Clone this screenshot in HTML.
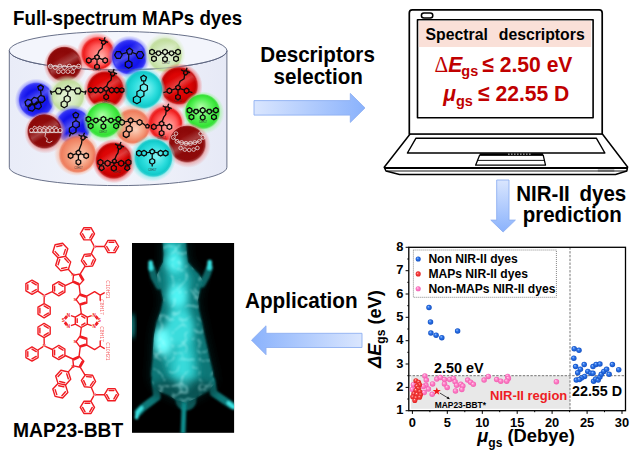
<!DOCTYPE html><html><head><meta charset="utf-8"><style>html,body{margin:0;padding:0;background:#fff}svg{display:block}</style></head><body><svg width="631" height="455" viewBox="0 0 631 455" font-family="Liberation Sans, sans-serif">
<defs><radialGradient id="g_red" cx="0.5" cy="0.5" r="0.5" fx="0.45" fy="0.45">
<stop offset="0" stop-color="#e01010"/><stop offset="0.5" stop-color="#dc0404"/><stop offset="0.72" stop-color="#c40000"/><stop offset="0.78" stop-color="#c40000" stop-opacity="0.85"/><stop offset="0.84" stop-color="#f06060" stop-opacity="0.62"/><stop offset="0.92" stop-color="#f06060" stop-opacity="0.3"/><stop offset="1" stop-color="#f06060" stop-opacity="0"/></radialGradient>
<radialGradient id="g_redpink" cx="0.5" cy="0.5" r="0.5" fx="0.62" fy="0.62">
<stop offset="0" stop-color="#ffb8b0"/><stop offset="0.5" stop-color="#ff5a5a"/><stop offset="0.72" stop-color="#ee1c1c"/><stop offset="0.78" stop-color="#ee1c1c" stop-opacity="0.85"/><stop offset="0.84" stop-color="#ff7070" stop-opacity="0.62"/><stop offset="0.92" stop-color="#ff7070" stop-opacity="0.3"/><stop offset="1" stop-color="#ff7070" stop-opacity="0"/></radialGradient>
<radialGradient id="g_dred" cx="0.5" cy="0.5" r="0.5" fx="0.4" fy="0.35">
<stop offset="0" stop-color="#961010"/><stop offset="0.5" stop-color="#8c0808"/><stop offset="0.72" stop-color="#8e0a0a"/><stop offset="0.78" stop-color="#8e0a0a" stop-opacity="0.85"/><stop offset="0.84" stop-color="#e89090" stop-opacity="0.62"/><stop offset="0.92" stop-color="#e89090" stop-opacity="0.3"/><stop offset="1" stop-color="#e89090" stop-opacity="0"/></radialGradient>
<radialGradient id="g_blue" cx="0.5" cy="0.5" r="0.5" fx="0.5" fy="0.5">
<stop offset="0" stop-color="#2424f0"/><stop offset="0.5" stop-color="#1414ea"/><stop offset="0.72" stop-color="#2c2cf4"/><stop offset="0.78" stop-color="#2c2cf4" stop-opacity="0.85"/><stop offset="0.84" stop-color="#8080ff" stop-opacity="0.62"/><stop offset="0.92" stop-color="#8080ff" stop-opacity="0.3"/><stop offset="1" stop-color="#8080ff" stop-opacity="0"/></radialGradient>
<radialGradient id="g_lgreen" cx="0.5" cy="0.5" r="0.5" fx="0.55" fy="0.6">
<stop offset="0" stop-color="#e2f1d4"/><stop offset="0.5" stop-color="#d0e7b8"/><stop offset="0.72" stop-color="#c2de9e"/><stop offset="0.78" stop-color="#c2de9e" stop-opacity="0.85"/><stop offset="0.84" stop-color="#d8ecc4" stop-opacity="0.62"/><stop offset="0.92" stop-color="#d8ecc4" stop-opacity="0.3"/><stop offset="1" stop-color="#d8ecc4" stop-opacity="0"/></radialGradient>
<radialGradient id="g_green" cx="0.5" cy="0.5" r="0.5" fx="0.45" fy="0.35">
<stop offset="0" stop-color="#b0ffa8"/><stop offset="0.5" stop-color="#52f052"/><stop offset="0.72" stop-color="#34e234"/><stop offset="0.78" stop-color="#34e234" stop-opacity="0.85"/><stop offset="0.84" stop-color="#a0f4a0" stop-opacity="0.62"/><stop offset="0.92" stop-color="#a0f4a0" stop-opacity="0.3"/><stop offset="1" stop-color="#a0f4a0" stop-opacity="0"/></radialGradient>
<radialGradient id="g_cyan" cx="0.5" cy="0.5" r="0.5" fx="0.6" fy="0.45">
<stop offset="0" stop-color="#84f4f4"/><stop offset="0.5" stop-color="#2adcdc"/><stop offset="0.72" stop-color="#12caca"/><stop offset="0.78" stop-color="#12caca" stop-opacity="0.85"/><stop offset="0.84" stop-color="#80e8e8" stop-opacity="0.62"/><stop offset="0.92" stop-color="#80e8e8" stop-opacity="0.3"/><stop offset="1" stop-color="#80e8e8" stop-opacity="0"/></radialGradient>
<radialGradient id="g_salmon" cx="0.5" cy="0.5" r="0.5" fx="0.6" fy="0.6">
<stop offset="0" stop-color="#fad2bc"/><stop offset="0.5" stop-color="#f49a7a"/><stop offset="0.72" stop-color="#ee7e5e"/><stop offset="0.78" stop-color="#ee7e5e" stop-opacity="0.85"/><stop offset="0.84" stop-color="#f8b8a0" stop-opacity="0.62"/><stop offset="0.92" stop-color="#f8b8a0" stop-opacity="0.3"/><stop offset="1" stop-color="#f8b8a0" stop-opacity="0"/></radialGradient>
<linearGradient id="streak" x1="0.2" y1="0" x2="0.8" y2="1"><stop offset="0.25" stop-color="#fff" stop-opacity="0"/><stop offset="0.45" stop-color="#fff" stop-opacity="0.22"/><stop offset="0.6" stop-color="#fff" stop-opacity="0"/></linearGradient>
<linearGradient id="arrR" x1="0" x2="1" y1="0" y2="0"><stop offset="0" stop-color="#dae6fe"/><stop offset="1" stop-color="#8ab2fc"/></linearGradient>
<linearGradient id="arrL" x1="1" x2="0" y1="0" y2="0"><stop offset="0" stop-color="#dae6fe"/><stop offset="1" stop-color="#8ab2fc"/></linearGradient>
<linearGradient id="arrD" x1="0" x2="0" y1="0" y2="1"><stop offset="0" stop-color="#dae6fe"/><stop offset="1" stop-color="#8ab2fc"/></linearGradient>
<linearGradient id="cyl" x1="0" x2="1" y1="0" y2="0"><stop offset="0" stop-color="#e9ecf8"/><stop offset="0.5" stop-color="#f2f4fb"/><stop offset="1" stop-color="#e6e9f6"/></linearGradient>
<filter id="blur2" x="-20%" y="-20%" width="140%" height="140%"><feGaussianBlur stdDeviation="2"/></filter>
<filter id="blur1" x="-20%" y="-20%" width="140%" height="140%"><feGaussianBlur stdDeviation="1"/></filter>
<filter id="blur3" x="-30%" y="-30%" width="160%" height="160%"><feGaussianBlur stdDeviation="3.5"/></filter>
<filter id="blur6" x="-30%" y="-30%" width="160%" height="160%"><feGaussianBlur stdDeviation="6"/></filter>
<radialGradient id="bpt" cx="0.5" cy="0.5" r="0.5" fx="0.35" fy="0.3"><stop offset="0" stop-color="#9cc4ff"/><stop offset="0.45" stop-color="#2a72e8"/><stop offset="1" stop-color="#1450c0"/></radialGradient>
<radialGradient id="rpt" cx="0.5" cy="0.5" r="0.5" fx="0.38" fy="0.32"><stop offset="0" stop-color="#fff0f0"/><stop offset="0.3" stop-color="#f85050"/><stop offset="0.7" stop-color="#ee3030"/><stop offset="1" stop-color="#e02424"/></radialGradient>
<radialGradient id="ppt" cx="0.5" cy="0.5" r="0.5" fx="0.35" fy="0.3"><stop offset="0" stop-color="#ffd4ee"/><stop offset="0.45" stop-color="#ff80c8"/><stop offset="1" stop-color="#f060b0"/></radialGradient>
</defs>
<rect width="100%" height="100%" fill="#fff"/>
<!--CYL-->
<path d="M9.299999999999997,50.7 L9.299999999999997,167.3 A108.8,18.3 0 0 0 226.89999999999998,167.3 L226.89999999999998,50.7 A108.8,19.2 0 0 1 9.299999999999997,50.7Z" fill="url(#cyl)" stroke="#58617c" stroke-width="0.9"/>
<ellipse cx="118.1" cy="50.7" rx="108.8" ry="19.2" fill="#f3f5fc" stroke="#58617c" stroke-width="0.9"/>
<circle cx="65.1" cy="65.4" r="21.4" fill="url(#g_dred)"/>
<circle cx="65.1" cy="65.4" r="15.8" fill="url(#streak)"/>
<circle cx="96.9" cy="52.5" r="20.2" fill="url(#g_redpink)"/>
<circle cx="129.3" cy="57.0" r="21.4" fill="url(#g_blue)"/>
<circle cx="129.3" cy="57.0" r="15.8" fill="url(#streak)"/>
<circle cx="164.6" cy="54.0" r="20.9" fill="url(#g_lgreen)"/>
<circle cx="164.6" cy="54.0" r="15.5" fill="url(#streak)"/>
<circle cx="36.2" cy="100.0" r="21.4" fill="url(#g_blue)"/>
<circle cx="36.2" cy="100.0" r="15.8" fill="url(#streak)"/>
<circle cx="67.4" cy="95.0" r="20.2" fill="url(#g_lgreen)"/>
<circle cx="67.4" cy="95.0" r="14.9" fill="url(#streak)"/>
<circle cx="179.6" cy="86.2" r="23.0" fill="url(#g_red)"/>
<circle cx="179.6" cy="86.2" r="17.0" fill="url(#streak)"/>
<circle cx="142.4" cy="90.0" r="23.3" fill="url(#g_cyan)"/>
<circle cx="105.8" cy="90.1" r="22.6" fill="url(#g_red)"/>
<circle cx="105.8" cy="90.1" r="16.7" fill="url(#streak)"/>
<circle cx="202.9" cy="112.8" r="21.4" fill="url(#g_green)"/>
<circle cx="73.2" cy="126.0" r="21.4" fill="url(#g_blue)"/>
<circle cx="73.2" cy="126.0" r="15.8" fill="url(#streak)"/>
<circle cx="45.4" cy="132.6" r="21.1" fill="url(#g_dred)"/>
<circle cx="45.4" cy="132.6" r="15.6" fill="url(#streak)"/>
<circle cx="131.7" cy="125.5" r="21.4" fill="url(#g_salmon)"/>
<circle cx="104.2" cy="121.4" r="21.4" fill="url(#g_green)"/>
<circle cx="164.4" cy="122.5" r="20.9" fill="url(#g_redpink)"/>
<circle cx="76.6" cy="153.4" r="22.6" fill="url(#g_salmon)"/>
<circle cx="188.1" cy="145.3" r="22.6" fill="url(#g_dred)"/>
<circle cx="188.1" cy="145.3" r="16.7" fill="url(#streak)"/>
<circle cx="114.2" cy="161.0" r="22.3" fill="url(#g_red)"/>
<circle cx="114.2" cy="161.0" r="16.5" fill="url(#streak)"/>
<circle cx="152.5" cy="158.4" r="23.3" fill="url(#g_cyan)"/>
<path d="M9.299999999999997,50.7 A108.8,19.2 0 0 0 226.89999999999998,50.7" fill="none" stroke="#58617c" stroke-width="0.7" opacity="0.6"/>
<g fill="none" stroke="#0a0a0a" stroke-width="1.3" stroke-linejoin="round"><path d="M97.0,54.7 L99.4,56.4 L98.5,59.2 L95.5,59.2 L94.6,56.4Z M91.1,61.8 L88.8,63.1 L86.5,61.8 L86.5,59.1 L88.8,57.7 L91.1,59.1Z M94.6,58.2 L91.4,59.6 M107.5,61.8 L105.2,63.1 L102.9,61.8 L102.9,59.1 L105.2,57.7 L107.5,59.1Z M99.4,58.2 L102.6,59.6 M99.3,68.1 L97.0,69.5 L94.7,68.1 L94.7,65.5 L97.0,64.1 L99.3,65.5Z M97.0,59.6 L97.0,64.1 M97.6,54.8 L99.1,50.8 L102.1,48.3 L102.6,44.3 M104.8,40.3 L105.8,42.8 L103.8,44.6 L101.5,43.2 L102.1,40.6Z M105.6,41.3 L108.1,42.3 M104.1,39.8 L105.1,37.3 M101.6,40.8 L99.1,39.3 M129.6,48.1 L132.7,50.4 L131.5,54.1 L127.7,54.1 L126.5,50.4Z M122.2,55.0 L120.3,58.3 L116.5,58.3 L114.6,55.0 L116.5,51.7 L120.3,51.7Z M143.8,55.0 L141.9,58.3 L138.1,58.3 L136.2,55.0 L138.1,51.7 L141.9,51.7Z M131.9,66.3 L128.6,68.2 L125.3,66.3 L125.3,62.5 L128.6,60.6 L131.9,62.5Z M126.5,52.6 L122.0,54.0 M132.7,52.6 L136.4,54.0 M128.8,54.4 L128.6,60.6 M154.3,53.4 L152.0,54.7 L149.7,53.4 L149.7,50.6 L152.0,49.3 L154.3,50.6Z M158.5,55.7 L156.1,54.0 L157.0,51.2 L160.0,51.2 L160.9,54.0Z M154.5,52.6 L156.0,52.6 M167.3,53.4 L165.0,54.7 L162.7,53.4 L162.7,50.6 L165.0,49.3 L167.3,50.6Z M161.0,52.6 L162.5,52.6 M171.5,55.7 L169.1,54.0 L170.0,51.2 L173.0,51.2 L173.9,54.0Z M167.5,52.6 L169.0,52.6 M180.3,53.4 L178.0,54.7 L175.7,53.4 L175.7,50.6 L178.0,49.3 L180.3,50.6Z M174.0,52.6 L175.5,52.6 M156.3,60.1 L153.9,61.5 L151.6,60.1 L151.6,57.4 L153.9,56.1 L156.3,57.4Z M167.3,60.6 L165.0,61.9 L162.7,60.6 L162.7,57.9 L165.0,56.5 L167.3,57.9Z M178.4,60.1 L176.1,61.5 L173.7,60.1 L173.7,57.4 L176.1,56.1 L178.4,57.4Z M165.0,54.7 L165.0,56.5 M191.8,111.6 L189.5,113.0 L187.2,111.6 L187.2,109.0 L189.5,107.6 L191.8,109.0Z M196.1,114.0 L193.7,112.3 L194.6,109.5 L197.6,109.5 L198.5,112.3Z M192.0,110.9 L193.6,110.9 M205.0,111.6 L202.7,113.0 L200.4,111.6 L200.4,109.0 L202.7,107.6 L205.0,109.0Z M198.6,110.9 L200.2,110.9 M209.3,114.0 L206.9,112.3 L207.8,109.5 L210.8,109.5 L211.7,112.3Z M205.2,110.9 L206.8,110.9 M218.2,111.6 L215.9,113.0 L213.6,111.6 L213.6,109.0 L215.9,107.6 L218.2,109.0Z M211.8,110.9 L213.4,110.9 M193.8,118.4 L191.5,119.8 L189.1,118.4 L189.1,115.8 L191.5,114.4 L193.8,115.8Z M205.0,118.8 L202.7,120.2 L200.4,118.8 L200.4,116.2 L202.7,114.8 L205.0,116.2Z M216.3,118.4 L213.9,119.8 L211.6,118.4 L211.6,115.8 L213.9,114.4 L216.3,115.8Z M202.7,113.0 L202.7,114.8 M90.7,120.5 L88.4,121.9 L86.1,120.5 L86.1,117.9 L88.4,116.5 L90.7,117.9Z M95.9,122.9 L93.5,121.2 L94.4,118.4 L97.4,118.4 L98.3,121.2Z M90.9,119.8 L93.4,119.8 M105.7,120.5 L103.4,121.9 L101.1,120.5 L101.1,117.9 L103.4,116.5 L105.7,117.9Z M98.4,119.8 L100.9,119.8 M110.9,122.9 L108.5,121.2 L109.4,118.4 L112.4,118.4 L113.3,121.2Z M105.9,119.8 L108.4,119.8 M120.7,120.5 L118.4,121.9 L116.1,120.5 L116.1,117.9 L118.4,116.5 L120.7,117.9Z M113.4,119.8 L115.9,119.8 M93.0,127.3 L90.7,128.7 L88.3,127.3 L88.3,124.7 L90.7,123.3 L93.0,124.7Z M105.7,127.8 L103.4,129.1 L101.1,127.8 L101.1,125.1 L103.4,123.7 L105.7,125.1Z M118.5,127.3 L116.2,128.7 L113.8,127.3 L113.8,124.7 L116.2,123.3 L118.5,124.7Z M103.4,121.9 L103.4,123.7 M40.6,84.9 L43.4,86.9 L42.3,90.1 L38.9,90.1 L37.8,86.9Z M40.6,90.6 L41.2,95.4 M45.0,100.0 L42.4,102.6 L38.8,101.6 L37.8,98.0 L40.4,95.4 L44.0,96.4Z M38.6,102.0 L36.0,104.6 L32.4,103.6 L31.4,100.0 L34.0,97.4 L37.6,98.4Z M41.4,106.6 L38.8,109.2 L35.2,108.2 L34.2,104.6 L36.8,102.0 L40.4,103.0Z M35.0,108.6 L32.4,111.2 L28.8,110.2 L27.8,106.6 L30.4,104.0 L34.0,105.0Z M32.2,104.0 L29.6,106.6 L26.0,105.6 L25.0,102.0 L27.6,99.4 L31.2,100.4Z M68.0,85.9 L70.8,87.9 L69.7,91.1 L66.3,91.1 L65.2,87.9Z M61.9,91.0 L60.2,93.9 L57.0,93.9 L55.3,91.0 L57.0,88.1 L60.2,88.1Z M81.1,91.0 L79.5,93.9 L76.1,93.9 L74.5,91.0 L76.1,88.1 L79.5,88.1Z M65.6,89.4 L61.6,90.0 M70.4,89.4 L74.6,90.0 M68.0,91.2 L67.6,95.4 M70.2,100.8 L67.2,102.5 L64.2,100.8 L64.2,97.2 L67.2,95.5 L70.2,97.2Z M67.2,106.0 L64.2,107.8 L61.2,106.0 L61.2,102.5 L64.2,100.8 L67.2,102.5Z M55.8,91.0 L52.4,92.2 L50.4,91.0 L51.6,94.6 M80.6,91.0 L84.0,92.2 L86.0,91.0 L85.0,94.6 M106.2,86.2 L108.7,88.0 L107.7,90.9 L104.7,90.9 L103.7,88.0Z M103.0,91.5 L100.7,92.9 L98.4,91.5 L98.4,88.9 L100.7,87.5 L103.0,88.9Z M97.9,91.5 L95.6,92.9 L93.3,91.5 L93.3,88.9 L95.6,87.5 L97.9,88.9Z M92.7,91.4 L90.6,92.6 L88.5,91.4 L88.5,89.0 L90.6,87.8 L92.7,89.0Z M114.0,91.5 L111.7,92.9 L109.4,91.5 L109.4,88.9 L111.7,87.5 L114.0,88.9Z M119.1,91.5 L116.8,92.9 L114.5,91.5 L114.5,88.9 L116.8,87.5 L119.1,88.9Z M123.9,91.4 L121.8,92.6 L119.7,91.4 L119.7,89.0 L121.8,87.8 L123.9,89.0Z M108.5,98.3 L106.2,99.7 L103.9,98.3 L103.9,95.7 L106.2,94.3 L108.5,95.7Z M106.2,91.4 L106.2,94.4 M106.6,86.4 L108.1,82.4 L111.1,79.9 L111.6,75.9 M113.8,71.9 L114.8,74.4 L112.8,76.2 L110.5,74.8 L111.1,72.2Z M114.6,72.9 L117.1,73.9 M113.1,71.4 L114.1,68.9 M110.6,72.4 L108.1,70.9 M110.1,164.7 L107.6,166.2 L105.1,164.7 L105.1,161.8 L107.6,160.4 L110.1,161.8Z M123.7,164.7 L121.2,166.2 L118.7,164.7 L118.7,161.8 L121.2,160.4 L123.7,161.8Z M102.9,163.8 L100.4,165.3 L97.9,163.8 L97.9,161.0 L100.4,159.5 L102.9,161.0Z M101.6,170.7 L99.0,168.8 L100.0,165.8 L103.2,165.8 L104.2,168.8Z M130.9,163.8 L128.4,165.3 L125.9,163.8 L125.9,161.0 L128.4,159.5 L130.9,161.0Z M127.2,170.7 L124.6,168.8 L125.6,165.8 L128.8,165.8 L129.8,168.8Z M116.3,169.6 L113.8,171.1 L111.3,169.6 L111.3,166.8 L113.8,165.3 L116.3,166.8Z M112.9,162.2 L110.2,162.8 M115.9,162.2 L118.6,162.8 M105.0,163.2 L103.0,162.8 M123.8,163.2 L125.8,162.8 M114.2,163.0 L113.9,165.4 M114.4,159.0 L116.5,160.5 L115.7,163.0 L113.1,163.0 L112.3,160.5Z M114.8,159.4 L116.3,155.4 L118.0,152.9 L118.5,148.9 M120.7,144.9 L121.7,147.4 L119.7,149.2 L117.4,147.8 L118.0,145.2Z M121.5,145.9 L124.0,146.9 M120.0,144.4 L121.0,141.9 M117.5,145.4 L115.0,143.9 M143.6,75.2 L146.5,77.3 L145.4,80.8 L141.8,80.8 L140.7,77.3Z M143.7,81.2 L143.9,83.7 M147.4,89.7 L143.9,91.7 L140.4,89.7 L140.4,85.7 L143.9,83.7 L147.4,85.7Z M143.9,95.7 L140.4,97.7 L136.9,95.7 L136.9,91.7 L140.4,89.7 L143.9,91.7Z M140.4,101.7 L136.9,103.7 L133.4,101.7 L133.4,97.7 L136.9,95.7 L140.4,97.7Z M178.0,85.1 L180.4,86.8 L179.5,89.6 L176.5,89.6 L175.6,86.8Z M171.7,92.1 L169.4,93.5 L167.1,92.1 L167.1,89.5 L169.4,88.1 L171.7,89.5Z M175.6,88.6 L172.1,90.0 M188.9,92.1 L186.6,93.5 L184.3,92.1 L184.3,89.5 L186.6,88.1 L188.9,89.5Z M180.4,88.6 L183.9,90.0 M180.3,98.5 L178.0,99.9 L175.7,98.5 L175.7,95.8 L178.0,94.5 L180.3,95.8Z M178.0,90.0 L178.0,94.5 M178.6,85.2 L180.1,81.2 L184.1,78.7 L184.6,74.7 M186.8,70.7 L187.8,73.2 L185.8,75.0 L183.5,73.6 L184.1,71.0Z M187.6,71.7 L190.1,72.7 M186.1,70.2 L187.1,67.7 M183.6,71.2 L181.1,69.7 M167.0,91.5 L163.4,92.6 M189.0,91.5 L192.4,92.6 M75.8,112.2 L78.7,114.3 L77.6,117.6 L74.0,117.6 L72.9,114.3Z M75.8,118.0 L76.0,120.6 M79.3,126.3 L76.0,128.2 L72.7,126.3 L72.7,122.5 L76.0,120.6 L79.3,122.5Z M76.0,132.0 L72.7,133.9 L69.4,132.0 L69.4,128.2 L72.7,126.3 L76.0,128.2Z M70.6,133.4 L69.4,136.4 M130.6,117.8 L133.1,119.6 L132.1,122.5 L129.1,122.5 L128.1,119.6Z M124.4,123.8 L122.0,125.2 L119.6,123.8 L119.6,121.0 L122.0,119.6 L124.4,121.0Z M142.0,123.8 L139.6,125.2 L137.2,123.8 L137.2,121.0 L139.6,119.6 L142.0,121.0Z M128.2,121.2 L124.8,121.8 M133.0,121.2 L136.8,121.8 M142.4,123.0 L145.4,125.6 M147.4,124.2 L149.3,125.6 L148.6,127.8 L146.2,127.8 L145.5,125.6Z M130.6,123.0 L130.0,125.6 M132.1,130.7 L129.2,132.4 L126.3,130.7 L126.3,127.3 L129.2,125.6 L132.1,127.3Z M129.1,135.9 L126.2,137.6 L123.3,135.9 L123.3,132.5 L126.2,130.8 L129.1,132.5Z M119.2,122.4 L116.4,121.4 M161.6,121.1 L164.0,122.8 L163.1,125.6 L160.1,125.6 L159.2,122.8Z M156.1,128.2 L153.8,129.5 L151.5,128.2 L151.5,125.5 L153.8,124.1 L156.1,125.5Z M159.2,124.6 L156.3,126.0 M171.7,128.2 L169.4,129.5 L167.1,128.2 L167.1,125.5 L169.4,124.1 L171.7,125.5Z M164.0,124.6 L166.9,126.0 M163.9,134.5 L161.6,135.9 L159.3,134.5 L159.3,131.8 L161.6,130.5 L163.9,131.8Z M161.6,126.0 L161.6,130.5 M162.2,121.2 L163.7,117.2 L165.7,114.7 L166.2,110.7 M168.3,106.7 L169.4,109.2 L167.4,111.0 L165.1,109.6 L165.7,107.0Z M169.2,107.7 L171.7,108.7 M167.7,106.2 L168.7,103.7 M165.2,107.2 L162.7,105.7 M78.4,150.1 L80.8,151.8 L79.9,154.6 L76.9,154.6 L76.0,151.8Z M72.9,157.1 L70.6,158.5 L68.3,157.1 L68.3,154.4 L70.6,153.1 L72.9,154.4Z M76.0,153.6 L73.1,155.0 M88.5,157.1 L86.2,158.5 L83.9,157.1 L83.9,154.4 L86.2,153.1 L88.5,154.4Z M80.8,153.6 L83.7,155.0 M80.7,163.5 L78.4,164.9 L76.1,163.5 L76.1,160.8 L78.4,159.5 L80.7,160.8Z M78.4,155.0 L78.4,159.5 M79.0,150.2 L80.5,146.2 L81.5,143.7 L82.0,139.7 M84.2,135.7 L85.2,138.2 L83.2,140.0 L80.9,138.6 L81.5,136.0Z M85.0,136.7 L87.5,137.7 M83.5,135.2 L84.5,132.7 M81.0,136.2 L78.5,134.7 M152.2,149.0 L154.7,150.8 L153.7,153.7 L150.7,153.7 L149.7,150.8Z M146.4,154.6 L144.0,156.0 L141.6,154.6 L141.6,151.8 L144.0,150.4 L146.4,151.8Z M141.4,154.6 L139.0,156.0 L136.6,154.6 L136.6,151.8 L139.0,150.4 L141.4,151.8Z M163.0,154.6 L160.6,156.0 L158.2,154.6 L158.2,151.8 L160.6,150.4 L163.0,151.8Z M168.0,154.6 L165.6,156.0 L163.2,154.6 L163.2,151.8 L165.6,150.4 L168.0,151.8Z M149.8,152.2 L146.8,152.8 M154.6,152.2 L157.8,152.8 M152.2,154.2 L152.2,158.4 M154.7,162.8 L152.2,164.3 L149.7,162.8 L149.7,160.0 L152.2,158.5 L154.7,160.0Z M152.2,164.4 L152.2,166.6"/></g>
<g fill="none" stroke="#e8e0e0" stroke-width="0.8"><circle cx="50.5" cy="66.3" r="2.1"/><circle cx="55.2" cy="67.39999999999999" r="2.1"/><circle cx="59.9" cy="66.3" r="2.1"/><circle cx="64.6" cy="67.39999999999999" r="2.1"/><circle cx="69.3" cy="66.3" r="2.1"/><circle cx="74" cy="67.39999999999999" r="2.1"/><circle cx="78.7" cy="66.3" r="2.1"/><path d="M48.0,66.0 L81.0,66.8"/><circle cx="58.5" cy="71.6" r="1.9"/><circle cx="63.2" cy="71.6" r="1.9"/><circle cx="67.9" cy="71.6" r="1.9"/><circle cx="72.6" cy="71.6" r="1.9"/><circle cx="31.5" cy="130.4" r="2.0"/><circle cx="35.6" cy="130.4" r="2.0"/><circle cx="39.7" cy="130.4" r="2.0"/><circle cx="43.8" cy="130.4" r="2.0"/><circle cx="47.9" cy="130.4" r="2.0"/><circle cx="52" cy="130.4" r="2.0"/><circle cx="56.1" cy="130.4" r="2.0"/><circle cx="60.2" cy="130.4" r="2.0"/><path d="M29.5,132.6 L62.0,132.6"/><path d="M33.0,128.0 L34.0,126.0 L38.0,128.0 L39.0,126.0 L43.0,128.0 L44.0,126.0 L48.0,128.0 L49.0,126.0 L53.0,128.0 L54.0,126.0 L58.0,128.0"/><path d="M45.6,133.0 L45.0,136.4 L47.4,139.0 L46.4,141.6 L49.6,142.6 L52.4,141.0"/><circle cx="173.4" cy="137.4" r="2.0"/><circle cx="177" cy="141.4" r="2.0"/><circle cx="181.6" cy="142.6" r="2.0"/><circle cx="186" cy="143.4" r="2.0"/><circle cx="190.4" cy="143.4" r="2.0"/><circle cx="194.8" cy="142.6" r="2.0"/><circle cx="199.4" cy="141.4" r="2.0"/><circle cx="203" cy="137.4" r="2.0"/><circle cx="180.6" cy="148" r="1.8"/><circle cx="184.8" cy="149.6" r="1.8"/><circle cx="189.2" cy="150" r="1.8"/><circle cx="193.6" cy="149.6" r="1.8"/><circle cx="197.4" cy="148" r="1.8"/><circle cx="176" cy="133.6" r="1.8"/><circle cx="200.6" cy="133.6" r="1.8"/><path d="M173.4,137.4 L177.0,141.4 L181.6,142.6 L186.0,143.4 L190.4,143.4 L194.8,142.6 L199.4,141.4 L203.0,137.4"/></g>
<text x="166" y="64" font-size="2.6" fill="#333" text-anchor="middle">C8H17</text>
<text x="96.9" y="71" font-size="2.6" fill="#333" text-anchor="middle">C8H17</text>
<text x="106" y="103" font-size="2.6" fill="#333" text-anchor="middle">C8H17</text>
<text x="178" y="101.5" font-size="2.6" fill="#333" text-anchor="middle">C8H17</text>
<text x="203" y="123" font-size="2.6" fill="#333" text-anchor="middle">C8H17</text>
<text x="103" y="132.5" font-size="2.6" fill="#333" text-anchor="middle">C8H17</text>
<text x="161.6" y="139" font-size="2.6" fill="#333" text-anchor="middle">C8H17</text>
<text x="78.4" y="168.5" font-size="2.6" fill="#333" text-anchor="middle">C8H17</text>
<text x="117" y="173" font-size="2.6" fill="#333" text-anchor="middle">C8H17</text>
<text x="152.4" y="171" font-size="2.6" fill="#333" text-anchor="middle">C8H17</text>
<path d="M410.3,133.8 L602.2,133.8 L627.6,167 L626.8,171 L615.5,174.5 L399.5,174.5 L386,171 L384.2,167.2 Z" stroke="#000" fill="#fff" stroke-linejoin="round" stroke-width="1.5"/>
<path d="M384.6,168 L627.4,168" stroke="#000" stroke-width="2.1" fill="none"/>
<path d="M386.5,171 L626.5,171" stroke="#000" stroke-width="0.9" fill="none"/>
<rect x="597.8" y="169.6" width="16.5" height="2.2" fill="#666"/>
<path d="M416,138.2 L596.3,138.2 L604.9,153 L407.4,153 Z" stroke="#000" fill="#fff" stroke-linejoin="round" stroke-width="1.4"/>
<path d="M479.6,155.2 L543.2,155.2 L545.5,165.2 L475.6,165.2 Z" stroke="#000" fill="#fff" stroke-linejoin="round" stroke-width="1.3"/>
<path d="M479.8,154.4 L543,154.4" stroke="#000" stroke-width="2.4" fill="none"/>
<path d="M508,154.2 L532,154.2" stroke="#fff" stroke-width="0.8" stroke-dasharray="1.6 1.4" fill="none"/>
<path d="M477.6,160.4 L544.4,160.4" stroke="#000" stroke-width="0.9" fill="none"/>
<path d="M412.3,9.9 L599.2,9.9 Q602.2,9.9 602.2,12.9 L602.2,134 L409.3,134 L409.3,12.9 Q409.3,9.9 412.3,9.9Z" stroke="#000" fill="#fff" stroke-linejoin="round" stroke-width="1.7"/>
<rect x="417.5" y="19.8" width="175.6" height="98" stroke="#000" fill="#fff" stroke-linejoin="round" stroke-width="1.6"/>
<rect x="418.8" y="20.8" width="172.4" height="26.2" fill="#fae0d8"/>
<rect x="421.4" y="13" width="11.4" height="5" rx="2.5" fill="#fff" stroke="#000" stroke-width="1.5"/>
<text transform="translate(425.6,39.7) scale(1,1.03)" font-size="15.8" font-weight="bold" word-spacing="6.5">Spectral descriptors</text>
<text transform="translate(434.6,71.5) scale(1,1.07)" font-size="21.1" font-weight="bold" fill="#c00000"><tspan font-family="Liberation Serif, serif" font-weight="normal" font-size="21.3">Δ</tspan><tspan font-style="italic">E</tspan><tspan font-size="14.5" dy="4.2" dx="-1">gs</tspan><tspan dy="-4.2" dx="4">≤ 2.50 eV</tspan></text>
<text transform="translate(443.2,101.1) scale(1,1.07)" font-size="21.1" font-weight="bold" fill="#c00000"><tspan font-style="italic">μ</tspan><tspan font-size="14.5" dy="4.2">gs</tspan><tspan dy="-4.2" dx="5.2">≤ 22.55 D</tspan></text>
<path d="M254,100.6 L350.3,100.6 L350.3,93.4 L365,107.9 L350.3,122.4 L350.3,115.1 L254,115.1Z" fill="url(#arrR)" stroke="#8fb0f2" stroke-width="0.9" stroke-linejoin="miter"/>
<path d="M496.7,180 L509,180 L509,220.1 L515.4,220.1 L503.1,232 L490.8,220.1 L496.7,220.1Z" fill="url(#arrD)" stroke="#8fb0f2" stroke-width="0.9" stroke-linejoin="miter"/>
<path d="M362,333.3 L266,333.3 L266,325.8 L251.5,340.2 L266,354.7 L266,347.5 L362,347.5Z" fill="url(#arrL)" stroke="#8fb0f2" stroke-width="0.9" stroke-linejoin="miter"/>
<rect x="411.1" y="375.7" width="158.9" height="33.1" fill="#e8e8e8"/>
<path d="M408.8,375.7 L625.5,375.7" stroke="#666" stroke-width="0.9" stroke-dasharray="2.4 1.4" fill="none"/>
<path d="M570.0,247.3 L570.0,410.7" stroke="#666" stroke-width="0.9" stroke-dasharray="2.4 1.4" fill="none"/>
<rect x="408.8" y="247.3" width="216.7" height="163.39999999999998" fill="none" stroke="#000" stroke-width="1.3"/>
<path d="M412.4,410.7 v3.2 M447.3,410.7 v3.2 M482.3,410.7 v3.2 M517.2,410.7 v3.2 M552.1,410.7 v3.2 M587.1,410.7 v3.2 M622.0,410.7 v3.2 M429.9,410.7 v1.5 M464.8,410.7 v1.5 M499.7,410.7 v1.5 M534.7,410.7 v1.5 M569.6,410.7 v1.5 M604.5,410.7 v1.5 M408.8,410.7 h-3.2 M408.8,387.4 h-3.2 M408.8,364.0 h-3.2 M408.8,340.7 h-3.2 M408.8,317.3 h-3.2 M408.8,294.0 h-3.2 M408.8,270.7 h-3.2 M408.8,247.3 h-3.2 M408.8,399.0 h-1.5 M408.8,375.7 h-1.5 M408.8,352.3 h-1.5 M408.8,329.0 h-1.5 M408.8,305.7 h-1.5 M408.8,282.3 h-1.5 M408.8,259.0 h-1.5" stroke="#000" stroke-width="1" fill="none"/>
<text transform="translate(412.4,427.4) scale(1,1.06)" font-size="12.9" font-weight="bold" text-anchor="middle">0</text>
<text transform="translate(447.3,427.4) scale(1,1.06)" font-size="12.9" font-weight="bold" text-anchor="middle">5</text>
<text transform="translate(482.3,427.4) scale(1,1.06)" font-size="12.9" font-weight="bold" text-anchor="middle">10</text>
<text transform="translate(517.2,427.4) scale(1,1.06)" font-size="12.9" font-weight="bold" text-anchor="middle">15</text>
<text transform="translate(552.1,427.4) scale(1,1.06)" font-size="12.9" font-weight="bold" text-anchor="middle">20</text>
<text transform="translate(587.1,427.4) scale(1,1.06)" font-size="12.9" font-weight="bold" text-anchor="middle">25</text>
<text transform="translate(622.0,427.4) scale(1,1.06)" font-size="12.9" font-weight="bold" text-anchor="middle">30</text>
<text transform="translate(403.3,414.3) scale(1,1.06)" font-size="12.9" font-weight="bold" text-anchor="end">1</text>
<text transform="translate(403.3,391.0) scale(1,1.06)" font-size="12.9" font-weight="bold" text-anchor="end">2</text>
<text transform="translate(403.3,367.6) scale(1,1.06)" font-size="12.9" font-weight="bold" text-anchor="end">3</text>
<text transform="translate(403.3,344.3) scale(1,1.06)" font-size="12.9" font-weight="bold" text-anchor="end">4</text>
<text transform="translate(403.3,320.9) scale(1,1.06)" font-size="12.9" font-weight="bold" text-anchor="end">5</text>
<text transform="translate(403.3,297.6) scale(1,1.06)" font-size="12.9" font-weight="bold" text-anchor="end">6</text>
<text transform="translate(403.3,274.3) scale(1,1.06)" font-size="12.9" font-weight="bold" text-anchor="end">7</text>
<text transform="translate(403.3,250.9) scale(1,1.06)" font-size="12.9" font-weight="bold" text-anchor="end">8</text>
<rect x="413.4" y="250" width="143" height="47.3" fill="#fff" stroke="#666" stroke-width="0.8" stroke-dasharray="1 1"/>
<circle cx="418.2" cy="259.0" r="2.55" fill="url(#bpt)"/>
<text x="428.4" y="263.2" font-size="12.1" font-weight="bold">Non NIR-II dyes</text>
<circle cx="418.2" cy="273.9" r="2.55" fill="url(#rpt)"/>
<text x="428.4" y="278.1" font-size="12.1" font-weight="bold">MAPs NIR-II dyes</text>
<circle cx="418.2" cy="288.8" r="2.55" fill="url(#ppt)"/>
<text x="428.4" y="293.0" font-size="12.1" font-weight="bold">Non-MAPs NIR-II dyes</text>
<circle cx="424.9" cy="375.9" r="2.75" fill="url(#ppt)"/>
<circle cx="426.3" cy="380.1" r="2.75" fill="url(#ppt)"/>
<circle cx="425.9" cy="385.3" r="2.75" fill="url(#ppt)"/>
<circle cx="423.2" cy="386.4" r="2.75" fill="url(#ppt)"/>
<circle cx="428.4" cy="389.1" r="2.75" fill="url(#ppt)"/>
<circle cx="424.2" cy="392.6" r="2.75" fill="url(#ppt)"/>
<circle cx="432.6" cy="383.9" r="2.75" fill="url(#ppt)"/>
<circle cx="432.2" cy="394.3" r="2.75" fill="url(#ppt)"/>
<circle cx="436.8" cy="379.1" r="2.75" fill="url(#ppt)"/>
<circle cx="440.5" cy="377.6" r="2.75" fill="url(#ppt)"/>
<circle cx="444.5" cy="379.5" r="2.75" fill="url(#ppt)"/>
<circle cx="444.5" cy="383.9" r="2.75" fill="url(#ppt)"/>
<circle cx="447.2" cy="387.4" r="2.75" fill="url(#ppt)"/>
<circle cx="449.7" cy="379.5" r="2.75" fill="url(#ppt)"/>
<circle cx="453.5" cy="378.4" r="2.75" fill="url(#ppt)"/>
<circle cx="455.1" cy="381.8" r="2.75" fill="url(#ppt)"/>
<circle cx="456.6" cy="385.3" r="2.75" fill="url(#ppt)"/>
<circle cx="455.5" cy="391" r="2.75" fill="url(#ppt)"/>
<circle cx="460.8" cy="384.3" r="2.75" fill="url(#ppt)"/>
<circle cx="462.8" cy="386" r="2.75" fill="url(#ppt)"/>
<circle cx="461.8" cy="389.5" r="2.75" fill="url(#ppt)"/>
<circle cx="467.7" cy="380.1" r="2.75" fill="url(#ppt)"/>
<circle cx="470.6" cy="382.2" r="2.75" fill="url(#ppt)"/>
<circle cx="473.3" cy="384.3" r="2.75" fill="url(#ppt)"/>
<circle cx="484.1" cy="380.1" r="2.75" fill="url(#ppt)"/>
<circle cx="488.3" cy="376.4" r="2.75" fill="url(#ppt)"/>
<circle cx="496.7" cy="379.5" r="2.75" fill="url(#ppt)"/>
<circle cx="500.8" cy="381.2" r="2.75" fill="url(#ppt)"/>
<circle cx="507.7" cy="376.4" r="2.75" fill="url(#ppt)"/>
<circle cx="508.4" cy="378.4" r="2.75" fill="url(#ppt)"/>
<circle cx="506.7" cy="381.2" r="2.75" fill="url(#ppt)"/>
<circle cx="413.4" cy="384.7" r="2.75" fill="url(#ppt)"/>
<circle cx="412.3" cy="389.5" r="2.75" fill="url(#ppt)"/>
<circle cx="556.4" cy="381.8" r="2.75" fill="url(#ppt)"/>
<circle cx="415.9" cy="380.7" r="2.55" fill="url(#rpt)"/>
<circle cx="418.6" cy="382.2" r="2.55" fill="url(#rpt)"/>
<circle cx="419.6" cy="384.7" r="2.55" fill="url(#rpt)"/>
<circle cx="416.9" cy="386" r="2.55" fill="url(#rpt)"/>
<circle cx="418.4" cy="388.5" r="2.55" fill="url(#rpt)"/>
<circle cx="415.9" cy="390.5" r="2.55" fill="url(#rpt)"/>
<circle cx="419.6" cy="391.6" r="2.55" fill="url(#rpt)"/>
<circle cx="413.8" cy="393.7" r="2.55" fill="url(#rpt)"/>
<circle cx="416.9" cy="394.3" r="2.55" fill="url(#rpt)"/>
<circle cx="420.5" cy="394.7" r="2.55" fill="url(#rpt)"/>
<circle cx="412.7" cy="396.8" r="2.55" fill="url(#rpt)"/>
<circle cx="415.9" cy="397.8" r="2.55" fill="url(#rpt)"/>
<circle cx="419.6" cy="397.2" r="2.55" fill="url(#rpt)"/>
<circle cx="414.8" cy="400.4" r="2.55" fill="url(#rpt)"/>
<circle cx="429" cy="307.6" r="2.75" fill="url(#bpt)"/>
<circle cx="430.5" cy="322" r="2.75" fill="url(#bpt)"/>
<circle cx="430.9" cy="333" r="2.75" fill="url(#bpt)"/>
<circle cx="436.1" cy="335.2" r="2.75" fill="url(#bpt)"/>
<circle cx="441.8" cy="337.7" r="2.75" fill="url(#bpt)"/>
<circle cx="457.6" cy="331" r="2.75" fill="url(#bpt)"/>
<circle cx="574.2" cy="348.8" r="2.75" fill="url(#bpt)"/>
<circle cx="579" cy="350.3" r="2.75" fill="url(#bpt)"/>
<circle cx="573.8" cy="358.2" r="2.75" fill="url(#bpt)"/>
<circle cx="575.6" cy="366.6" r="2.75" fill="url(#bpt)"/>
<circle cx="580.4" cy="369.3" r="2.75" fill="url(#bpt)"/>
<circle cx="577.7" cy="372.8" r="2.75" fill="url(#bpt)"/>
<circle cx="584.2" cy="364.5" r="2.75" fill="url(#bpt)"/>
<circle cx="587.8" cy="371.4" r="2.75" fill="url(#bpt)"/>
<circle cx="590.9" cy="373.3" r="2.75" fill="url(#bpt)"/>
<circle cx="593" cy="373.3" r="2.75" fill="url(#bpt)"/>
<circle cx="593" cy="366.6" r="2.75" fill="url(#bpt)"/>
<circle cx="596.1" cy="364.5" r="2.75" fill="url(#bpt)"/>
<circle cx="599.9" cy="364.1" r="2.75" fill="url(#bpt)"/>
<circle cx="584.6" cy="376.4" r="2.75" fill="url(#bpt)"/>
<circle cx="581.5" cy="378" r="2.75" fill="url(#bpt)"/>
<circle cx="576.3" cy="380.1" r="2.75" fill="url(#bpt)"/>
<circle cx="579.4" cy="379.5" r="2.75" fill="url(#bpt)"/>
<circle cx="593.6" cy="381.2" r="2.75" fill="url(#bpt)"/>
<circle cx="595.7" cy="379.1" r="2.75" fill="url(#bpt)"/>
<circle cx="598.2" cy="380.1" r="2.75" fill="url(#bpt)"/>
<circle cx="599.9" cy="377" r="2.75" fill="url(#bpt)"/>
<circle cx="601.3" cy="374.3" r="2.75" fill="url(#bpt)"/>
<circle cx="603.8" cy="371.4" r="2.75" fill="url(#bpt)"/>
<circle cx="606.6" cy="369.3" r="2.75" fill="url(#bpt)"/>
<circle cx="609.1" cy="374.3" r="2.75" fill="url(#bpt)"/>
<circle cx="612.4" cy="364.5" r="2.75" fill="url(#bpt)"/>
<circle cx="618.7" cy="369.7" r="2.75" fill="url(#bpt)"/>
<polygon points="436.8,387.2 437.8,390.0 440.8,390.1 438.4,391.9 439.3,394.8 436.8,393.1 434.3,394.8 435.2,391.9 432.8,390.1 435.8,390.0" fill="#f01818"/>
<path d="M439.8,393 L449,398.6" stroke="#000" stroke-width="0.7" fill="none"/><path d="M450,399.2 l-3.4,-0.6 l1.4,-2.2z" fill="#000"/>
<text x="434.8" y="407.8" font-size="8.4" font-weight="bold">MAP23-BBT*</text>
<text transform="translate(434,372.6) scale(1,1.07)" font-size="14.4" font-weight="bold">2.50 eV</text>
<text x="490" y="400" font-size="13" font-weight="bold" fill="#ee1c24">NIR-II region</text>
<text transform="translate(572,396.4) scale(1,1.06)" font-size="14.3" font-weight="bold">22.55 D</text>
<text transform="translate(381.3,368) rotate(-90)" font-size="18.2" font-weight="bold"><tspan font-style="italic">ΔE</tspan><tspan font-size="12" dy="4">gs</tspan><tspan dy="-4"> (eV)</tspan></text>
<text x="477.3" y="441.8" font-size="18.35" font-weight="bold"><tspan font-style="italic">μ</tspan><tspan font-size="12" dy="5">gs</tspan><tspan dy="-5"> (Debye)</tspan></text>
<rect x="132" y="243" width="102.1" height="189.8" fill="#000"/>
<clipPath id="mclip"><rect x="132" y="243" width="102.1" height="189.8"/></clipPath>
<filter id="mtex" x="0" y="0" width="100%" height="100%"><feTurbulence type="turbulence" baseFrequency="0.075" numOctaves="2" seed="5" result="n"/><feColorMatrix in="n" type="matrix" values="0 0 0 0 0.55  0 0 0 0 1  0 0 0 0 1  -8.5 0 0 0 1.25" result="a"/><feComposite in="a" in2="SourceGraphic" operator="in"/></filter>
<clipPath id="bclip"><path d="M162.5,240 L186,240 L187,254 L188,262 L193,268 L199,274 L203,281 L200,290 L198,300 L199,310 L202,322 L204.5,335 L207.5,348 L210,360 L213,372 L214,384 L209,391 L203,394 L196,398 L186,403 L176,400 L168,395 L160,392 L153,386 L151,374 L152.5,360 L153,348 L154,335 L156.5,322 L161,310 L163,300 L161,290 L157,282 L157,275 L160,268 L163,262 L163.5,254 Z"/></clipPath>
<g clip-path="url(#mclip)">
<path d="M162.5,240 L186,240 L187,254 L188,262 L193,268 L199,274 L203,281 L200,290 L198,300 L199,310 L202,322 L204.5,335 L207.5,348 L210,360 L213,372 L214,384 L209,391 L203,394 L196,398 L186,403 L176,400 L168,395 L160,392 L153,386 L151,374 L152.5,360 L153,348 L154,335 L156.5,322 L161,310 L163,300 L161,290 L157,282 L157,275 L160,268 L163,262 L163.5,254 Z" fill="#053838" filter="url(#blur6)" opacity="0.7"/>
<ellipse cx="132.2" cy="326" rx="3" ry="13" fill="#0c7878" filter="url(#blur2)"/>
<circle cx="186" cy="400" r="10.5" fill="#0a5c5c" filter="url(#blur1)"/>
<g filter="url(#blur1)" fill="none" stroke-linecap="round" stroke-linejoin="round">
<path d="M159,286 L154,277 L151.5,268" stroke="#0b6666" stroke-width="7"/>
<path d="M202,284 L206.5,276 L209.5,268" stroke="#0b6666" stroke-width="7"/>
<path d="M150.6,262.5 L151,268.5" stroke="#38e2e2" stroke-width="4.6"/>
<path d="M209.7,262 L209.4,268" stroke="#38e2e2" stroke-width="4.6"/>
<path d="M155.5,382 L157,397 L143,407.5 L138.5,412" stroke="#0e7878" stroke-width="7.5"/>
<path d="M211.5,381 L213.5,393 L226,401.5 L232,405.5" stroke="#0e7878" stroke-width="7.5"/>
<path d="M141.5,408 L137.5,412.5 L136.6,417.5" stroke="#3ce4e4" stroke-width="3.8"/>
<path d="M228.5,403 L234,407.5" stroke="#3ce4e4" stroke-width="4"/>
<path d="M184.3,398 L183,434" stroke="#108c8c" stroke-width="4.8"/>
</g>
<path d="M162.5,240 L186,240 L187,254 L188,262 L193,268 L199,274 L203,281 L200,290 L198,300 L199,310 L202,322 L204.5,335 L207.5,348 L210,360 L213,372 L214,384 L209,391 L203,394 L196,398 L186,403 L176,400 L168,395 L160,392 L153,386 L151,374 L152.5,360 L153,348 L154,335 L156.5,322 L161,310 L163,300 L161,290 L157,282 L157,275 L160,268 L163,262 L163.5,254 Z" fill="#0d7676" filter="url(#blur1)"/>
<g filter="url(#blur3)" clip-path="url(#bclip)">
<path d="M168,244 L181,244 L183,262 L191,278 L189,296 L190,310 L194,335 L197,360 L198,378 L185,392 L170,378 L164,360 L164,335 L169,310 L170,296 L167,278 L168,262Z" fill="#24b8b8"/>
<ellipse cx="162.5" cy="341" rx="9" ry="14" fill="#6cffff"/>
<ellipse cx="174.5" cy="262" rx="10" ry="10" fill="#4af0f0"/>
<ellipse cx="177" cy="296" rx="10" ry="11" fill="#50f4f4"/>
<ellipse cx="172" cy="247" rx="8" ry="5" fill="#34d8d8"/>
<ellipse cx="183" cy="368" rx="8" ry="22" fill="#38dada"/>
<ellipse cx="180" cy="328" rx="14" ry="18" fill="#3adcdc"/>
</g>
<ellipse cx="183" cy="390" rx="36" ry="11" fill="#000" opacity="0.3" filter="url(#blur3)"/>
<g filter="url(#blur1)" opacity="0.5" clip-path="url(#bclip)"><rect x="140" y="240" width="90" height="170" fill="#fff" filter="url(#mtex)"/></g>
</g>
<path d="M94.5,233.8 L91.0,239.9 L83.9,239.9 L80.3,233.8 L83.9,227.7 L91.0,227.7Z M92.2,233.8 L89.8,238.0 M85.0,238.0 L82.6,233.8 M85.0,229.6 L89.8,229.6 M118.6,246.5 L115.0,252.6 L108.0,252.6 L104.4,246.5 L108.0,240.4 L115.0,240.4Z M116.3,246.5 L113.9,250.7 M109.1,250.7 L106.7,246.5 M109.1,242.3 L113.9,242.3 M95.6,259.6 L92.6,266.0 L85.5,266.6 L81.4,260.8 L84.4,254.4 L91.5,253.8Z M93.3,259.8 L91.3,264.2 M86.5,264.6 L83.7,260.6 M85.7,256.2 L90.5,255.8 M90.8,240.0 L93.5,244.9 M104.4,246.5 L96.2,246.5 M91.3,253.7 L93.7,248.2 M67.8,248.8 L65.5,256.2 L58.0,257.8 L52.8,252.2 L55.1,244.8 L62.6,243.2Z M65.4,249.4 L63.8,254.4 M58.7,255.5 L55.2,251.6 M56.8,246.6 L61.9,245.5 M70.7,261.9 L68.4,269.2 L60.9,270.9 L55.7,265.2 L58.0,257.8 L65.5,256.2Z M66.7,267.4 L61.6,268.5 M58.1,264.7 L59.7,259.7 M64.8,258.5 L68.3,262.4 M73.5,275.3 L80.3,273.9 L83.8,279.9 L79.1,285.1 L72.8,282.2Z M68.3,269.3 L72.5,274.1 M84.9,266.3 L80.3,273.9 M38.1,290.8 L32.0,294.3 L25.9,290.8 L25.9,283.6 L32.0,280.1 L38.1,283.6Z M36.2,289.6 L32.0,292.0 M27.8,289.6 L27.8,284.8 M32.0,282.4 L36.2,284.8 M50.2,314.2 L44.1,317.8 L38.0,314.2 L38.0,307.1 L44.1,303.6 L50.2,307.1Z M48.3,313.1 L44.1,315.5 M39.9,313.1 L39.9,308.3 M44.1,305.9 L48.3,308.3 M64.9,292.2 L58.8,295.8 L52.7,292.2 L52.7,285.1 L58.8,281.6 L64.9,285.1Z M63.0,291.1 L58.8,293.5 M54.6,291.1 L54.6,286.3 M58.8,283.9 L63.0,286.3 M37.9,291.2 L42.7,294.4 M44.1,303.6 L44.2,297.2 M52.3,291.7 L45.8,294.6 M65.2,285.7 L72.8,282.2 M76.1,299.6 L80.2,294.0 L86.8,296.1 L86.8,303.1 L80.2,305.2Z M79.1,285.1 L80.2,294.0 M80.2,305.2 L81.3,313.7 M80.7,295.6 L85.4,297.1 M85.4,302.1 L80.7,303.6 M79.6,275.4 L82.1,279.8 M78.8,283.5 L74.2,281.4 M86.8,296.1 L94.6,291.6 L100.2,295.2 L100.2,300.2 M100.2,295.2 L104.2,292.8 M94.5,407.4 L91.0,413.5 L83.9,413.5 L80.3,407.4 L83.9,401.3 L91.0,401.3Z M92.2,407.4 L89.8,411.6 M85.0,411.6 L82.6,407.4 M85.0,403.2 L89.8,403.2 M118.6,394.7 L115.0,400.8 L108.0,400.8 L104.4,394.7 L108.0,388.6 L115.0,388.6Z M116.3,394.7 L113.9,398.9 M109.1,398.9 L106.7,394.7 M109.1,390.5 L113.9,390.5 M95.6,381.6 L91.5,387.4 L84.4,386.8 L81.4,380.4 L85.5,374.6 L92.6,375.2Z M93.3,381.4 L90.5,385.4 M85.7,385.0 L83.7,380.6 M86.5,376.6 L91.3,377.0 M90.8,401.2 L93.5,396.3 M104.4,394.7 L96.2,394.7 M91.3,387.5 L93.7,393.0 M67.8,392.4 L62.6,398.0 L55.1,396.4 L52.8,389.0 L58.0,383.4 L65.5,385.0Z M65.4,391.8 L61.9,395.7 M56.8,394.6 L55.2,389.6 M58.7,385.7 L63.8,386.8 M70.7,379.3 L65.5,385.0 L58.0,383.4 L55.7,376.0 L60.9,370.3 L68.4,372.0Z M64.8,382.7 L59.7,381.5 M58.1,376.5 L61.6,372.7 M66.7,373.8 L68.3,378.8 M73.5,365.9 L72.8,359.0 L79.1,356.1 L83.8,361.3 L80.3,367.3Z M68.3,371.9 L72.5,367.1 M84.9,374.9 L80.3,367.3 M38.1,357.6 L32.0,361.1 L25.9,357.6 L25.9,350.5 L32.0,346.9 L38.1,350.5Z M36.2,356.4 L32.0,358.8 M27.8,356.4 L27.8,351.6 M32.0,349.2 L36.2,351.6 M50.2,334.1 L44.1,337.6 L38.0,334.1 L38.0,327.0 L44.1,323.4 L50.2,327.0Z M48.3,332.9 L44.1,335.3 M39.9,332.9 L39.9,328.1 M44.1,325.7 L48.3,328.1 M64.9,356.1 L58.8,359.6 L52.7,356.1 L52.7,349.0 L58.8,345.4 L64.9,349.0Z M63.0,354.9 L58.8,357.3 M54.6,354.9 L54.6,350.1 M58.8,347.7 L63.0,350.1 M37.9,350.0 L42.7,346.8 M44.1,337.6 L44.2,344.0 M52.3,349.5 L45.8,346.6 M65.2,355.5 L72.8,359.0 M76.1,341.6 L80.2,336.0 L86.8,338.1 L86.8,345.1 L80.2,347.2Z M79.1,356.1 L80.2,347.2 M80.2,336.0 L81.3,327.5 M80.7,345.6 L85.4,344.1 M85.4,339.1 L80.7,337.6 M79.6,365.8 L82.1,361.4 M78.8,357.7 L74.2,359.8 M86.8,345.1 L94.6,349.6 L100.2,346.0 L100.2,341.0 M100.2,346.0 L104.2,348.4" fill="none" stroke="#f01c22" stroke-width="1.4" stroke-linejoin="round" stroke-linecap="round"/>
<path d="M87.3,324.1 L81.3,327.5 L75.3,324.1 L75.3,317.2 L81.3,313.7 L87.3,317.2Z M85.4,322.9 L81.3,325.3 M77.2,322.9 L77.2,318.3 M81.3,315.9 L85.4,318.3 M75.3,317.15 L70.9,315.6 M75.3,324.05 L70.9,325.6 M67.5,316.6 L65.3,319.4 M67.5,324.6 L65.3,321.8 M66.5,315.6 L64.3,318.4 M66.5,325.6 L64.3,322.8 M87.3,317.15 L91.7,315.6 M87.3,324.05 L91.7,325.6 M95.1,316.6 L97.3,319.4 M95.1,324.6 L97.3,321.8 M96.1,315.6 L98.3,318.4 M96.1,325.6 L98.3,322.8" fill="none" stroke="#f01c22" stroke-width="1.4" stroke-linejoin="round"/>
<text x="94.4" y="248.0" font-size="4.2" font-weight="bold" fill="#f01c22" opacity="1" text-anchor="middle">N</text>
<text x="44.2" y="296.9" font-size="4.2" font-weight="bold" fill="#f01c22" opacity="1" text-anchor="middle">N</text>
<text x="72.9" y="276.1" font-size="4.2" font-weight="bold" fill="#f01c22" opacity="1" text-anchor="middle">N</text>
<text x="74.8" y="301.1" font-size="4.2" font-weight="bold" fill="#f01c22" opacity="1" text-anchor="middle">S</text>
<text x="94.4" y="396.20000000000005" font-size="4.2" font-weight="bold" fill="#f01c22" opacity="1" text-anchor="middle">N</text>
<text x="44.2" y="347.30000000000007" font-size="4.2" font-weight="bold" fill="#f01c22" opacity="1" text-anchor="middle">N</text>
<text x="72.9" y="368.1" font-size="4.2" font-weight="bold" fill="#f01c22" opacity="1" text-anchor="middle">N</text>
<text x="74.8" y="343.1" font-size="4.2" font-weight="bold" fill="#f01c22" opacity="1" text-anchor="middle">S</text>
<text x="68.4" y="316.6" font-size="4.6" font-weight="bold" fill="#f01c22" opacity="1" text-anchor="middle">N</text>
<text x="68.4" y="328.4" font-size="4.6" font-weight="bold" fill="#f01c22" opacity="1" text-anchor="middle">N</text>
<text x="94.2" y="316.6" font-size="4.6" font-weight="bold" fill="#f01c22" opacity="1" text-anchor="middle">N</text>
<text x="94.2" y="328.4" font-size="4.6" font-weight="bold" fill="#f01c22" opacity="1" text-anchor="middle">N</text>
<text x="63.2" y="322.3" font-size="4.6" font-weight="bold" fill="#f01c22" opacity="1" text-anchor="middle">S</text>
<text x="99.4" y="322.3" font-size="4.6" font-weight="bold" fill="#f01c22" opacity="1" text-anchor="middle">S</text>
<text x="105.6" y="289.5" font-size="5" font-weight="normal" fill="#f01c22" opacity="0.7" text-anchor="middle" transform="rotate(90 105.6 289.5)">C10H21</text>
<text x="99.6" y="307" font-size="5" font-weight="normal" fill="#f01c22" opacity="0.7" text-anchor="middle" transform="rotate(90 99.6 307)">C8H17</text>
<text x="105.6" y="351.5" font-size="5" font-weight="normal" fill="#f01c22" opacity="0.7" text-anchor="middle" transform="rotate(90 105.6 351.5)">C10H21</text>
<text x="99.6" y="334" font-size="5" font-weight="normal" fill="#f01c22" opacity="0.7" text-anchor="middle" transform="rotate(90 99.6 334)">C8H17</text>
<!--TEXT-->
<text transform="translate(13.0,25.0) scale(1,1.07)" font-size="18.75" font-weight="bold" fill="#000" text-anchor="start" >Full-spectrum MAPs dyes</text>
<text transform="translate(317.6,62.0) scale(1,1.07)" font-size="20.6" font-weight="bold" fill="#000" text-anchor="middle" >Descriptors</text>
<text transform="translate(318.2,84.1) scale(1,1.07)" font-size="20.6" font-weight="bold" fill="#000" text-anchor="middle" >selection</text>
<text transform="translate(626.2,200.6) scale(1,1.07)" font-size="20.5" font-weight="bold" fill="#000" text-anchor="end" word-spacing="4">NIR-II dyes</text>
<text transform="translate(572.2,221.9) scale(1,1.07)" font-size="20.5" font-weight="bold" fill="#000" text-anchor="middle" >prediction</text>
<text transform="translate(245.0,307.8) scale(1,1.07)" font-size="20.7" font-weight="bold" fill="#000" text-anchor="start" >Application</text>
<text transform="translate(13.1,436.6) scale(1,1.07)" font-size="19.25" font-weight="bold" fill="#000" text-anchor="start" >MAP23-BBT</text>
</svg></body></html>
